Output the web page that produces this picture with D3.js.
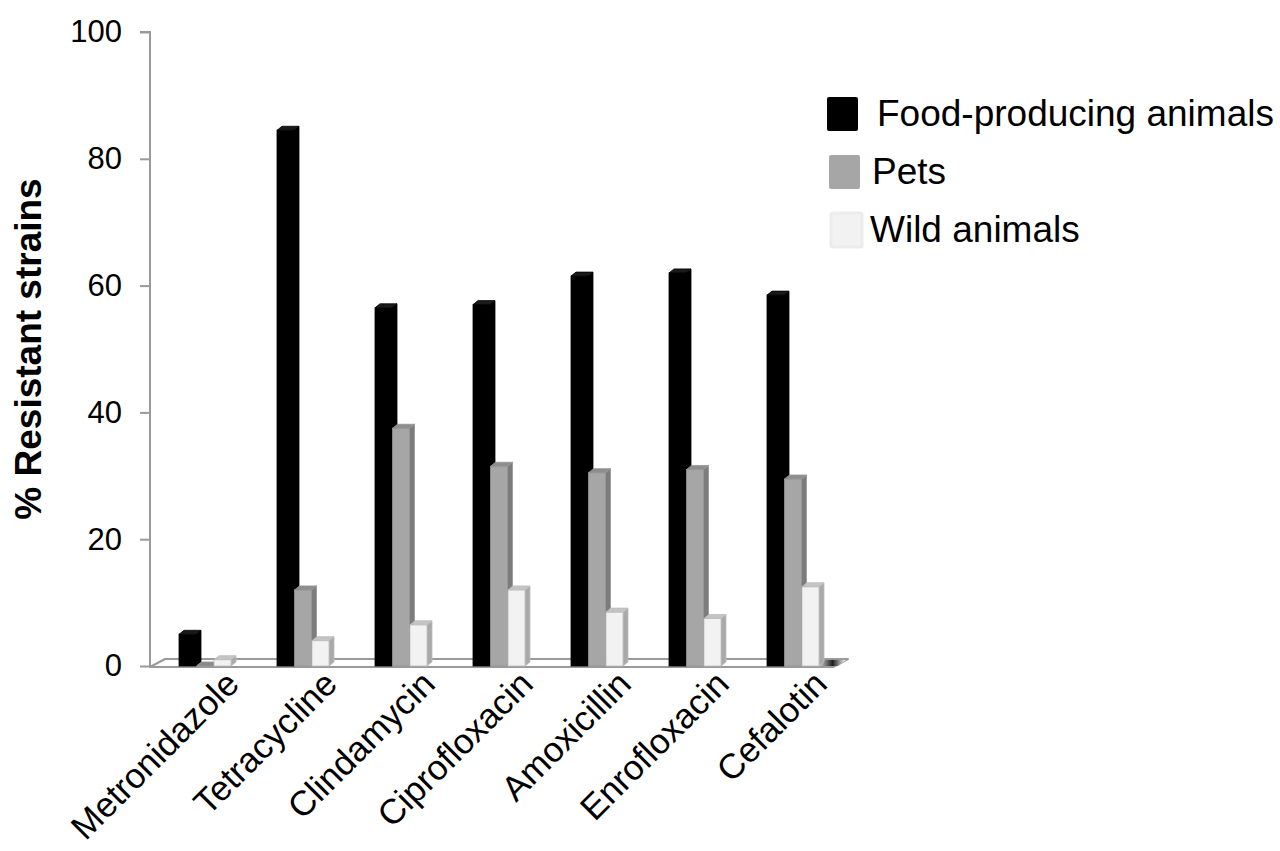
<!DOCTYPE html>
<html>
<head>
<meta charset="utf-8">
<script src="https://cdn.jsdelivr.net/npm/d3@7"></script>
<style>
  html, body { margin: 0; padding: 0; background: #fff; }
  svg { display: block; font-family: "Liberation Sans", Arial, sans-serif; }
</style>
</head>
<body>
<svg id="chart" width="1280" height="851"></svg>
<script>
// Antibiotic resistance by animal origin (% resistant strains)
const categories = ["Metronidazole", "Tetracycline", "Clindamycin", "Ciprofloxacin", "Amoxicillin", "Enrofloxacin", "Cefalotin"];
const seriesNames = ["Food-producing animals", "Pets", "Wild animals"];
const foodProducing = [5, 84.5, 56.5, 57, 61.5, 62, 58.5];
const pets = [0, 12, 37.5, 31.5, 30.5, 31, 29.5];
const wildAnimals = [1, 4, 6.5, 12, 8.5, 7.5, 12.5];
const yTicks = [0, 20, 40, 60, 80, 100];

const seriesValues = [foodProducing, pets, wildAnimals];

// face colours per series: front, side, top, outline
const palette = [
  { front: "#000000", side: "#000000", top: "#1a1a1a", stroke: "#000000" },
  { front: "#a6a6a6", side: "#7c7c7c", top: "#8e8e8e", stroke: "#959595" },
  { front: "#f2f2f2", side: "#a9a9a9", top: "#c4c4c4", stroke: "#bdbdbd" }
];

const svg = d3.select("#chart");

const y = d3.scaleLinear().domain([0, 100]).range([666, 32]);
const x = d3.scaleBand().domain(categories).range([150, 836]).padding(0);
const xs = d3.scaleBand().domain(seriesNames).range([29, 29 + 17.5 * 3]).padding(0);

const barW = 17;    // front face width
const depthX = 5;   // oblique depth offset
const depthY = 4;

// ---- floor ----
const floorFront = 667, floorBack = 659;
const floorLeft = 150, floorRight = 833;
svg.append("polygon")
  .attr("points", [[floorLeft, floorFront], [floorLeft + 15, floorBack], [floorRight + 15, floorBack], [floorRight, floorFront]].join(" "))
  .attr("fill", "#ffffff")
  .attr("stroke", "#9a9a9a")
  .attr("stroke-width", 2)
  .attr("stroke-linejoin", "round");

// dark shading at the right end of the floor
const defs = svg.append("defs");
const grad = defs.append("linearGradient").attr("id", "floorShade").attr("x1", "0").attr("x2", "1");
grad.append("stop").attr("offset", "0").attr("stop-color", "#ffffff");
grad.append("stop").attr("offset", "0.55").attr("stop-color", "#1e1e1e");
grad.append("stop").attr("offset", "1").attr("stop-color", "#ffffff");
svg.append("polygon")
  .attr("points", [[816, 666], [822, 660], [846, 660], [838, 666]].join(" "))
  .attr("fill", "url(#floorShade)");

// ---- y axis ----
const axisG = svg.append("g").attr("transform", "translate(150,0)");
axisG.call(d3.axisLeft(y).tickValues(yTicks).tickSize(10).tickPadding(18).tickFormat(d3.format("d")));
axisG.select(".domain").attr("stroke", "#9a9a9a").attr("stroke-width", 2)
  .attr("d", `M-10,${y(100)}H0V${floorFront}`);
axisG.selectAll(".tick line").attr("stroke", "#9a9a9a").attr("stroke-width", 2);
axisG.selectAll(".tick text")
  .attr("fill", "#000")
  .style("font-size", "31px")
  .style("font-family", '"Liberation Sans", Arial, sans-serif');

svg.append("text")
  .attr("transform", `translate(41,${(y(0) + y(100)) / 2}) rotate(-90)`)
  .attr("text-anchor", "middle")
  .style("font-size", "37px")
  .style("font-weight", "bold")
  .text("% Resistant strains");

// ---- bars ----
const groups = svg.append("g").selectAll("g")
  .data(categories)
  .join("g");

groups.each(function (cat, ci) {
  const g = d3.select(this);
  seriesNames.forEach((s, si) => {
    const v = seriesValues[si][ci];
    const c = palette[si];
    const x0 = x(cat) + xs(s);
    const x1 = x0 + barW;
    const yT = y(v), yB = y(0);
    if (v > 0) {
      // side face
      g.append("polygon")
        .attr("points", [[x1, yT], [x1 + depthX, yT - depthY], [x1 + depthX, yB - depthY], [x1, yB]].join(" "))
        .attr("fill", c.side).attr("stroke", c.stroke).attr("stroke-width", 0.8);
      // front face
      g.append("rect")
        .attr("x", x0).attr("y", yT).attr("width", barW).attr("height", yB - yT)
        .attr("fill", c.front).attr("stroke", c.stroke).attr("stroke-width", 0.8);
    }
    // top face
    g.append("polygon")
      .attr("points", [[x0, yT], [x0 + depthX, yT - depthY], [x1 + depthX, yT - depthY], [x1, yT]].join(" "))
      .attr("fill", v > 0 ? c.top : "#8a8a8a").attr("stroke", c.stroke).attr("stroke-width", 0.8);
  });
});

// ---- category labels ----
svg.append("g").selectAll("text")
  .data(categories)
  .join("text")
  .attr("transform", d => `translate(${x(d) + x.bandwidth() / 2 + 42},${686}) rotate(-45)`)
  .attr("text-anchor", "end")
  .style("font-size", "35px")
  .text(d => d);

// ---- legend ----
const legend = svg.append("g").selectAll("g")
  .data(seriesNames)
  .join("g")
  .attr("transform", (d, i) => `translate(0,${i * 58})`);

legend.append("rect")
  .attr("x", (d, i) => 827 + i * 2)
  .attr("y", 97)
  .attr("width", 31)
  .attr("height", 34)
  .attr("rx", 2)
  .attr("fill", (d, i) => palette[i].front)
  .attr("stroke", (d, i) => i === 2 ? "#ececec" : "none")
  .attr("stroke-width", 3);

legend.append("text")
  .attr("x", (d, i) => [877, 872, 870][i])
  .attr("y", 126)
  .style("font-size", "37px")
  .text(d => d);
</script>
</body>
</html>
